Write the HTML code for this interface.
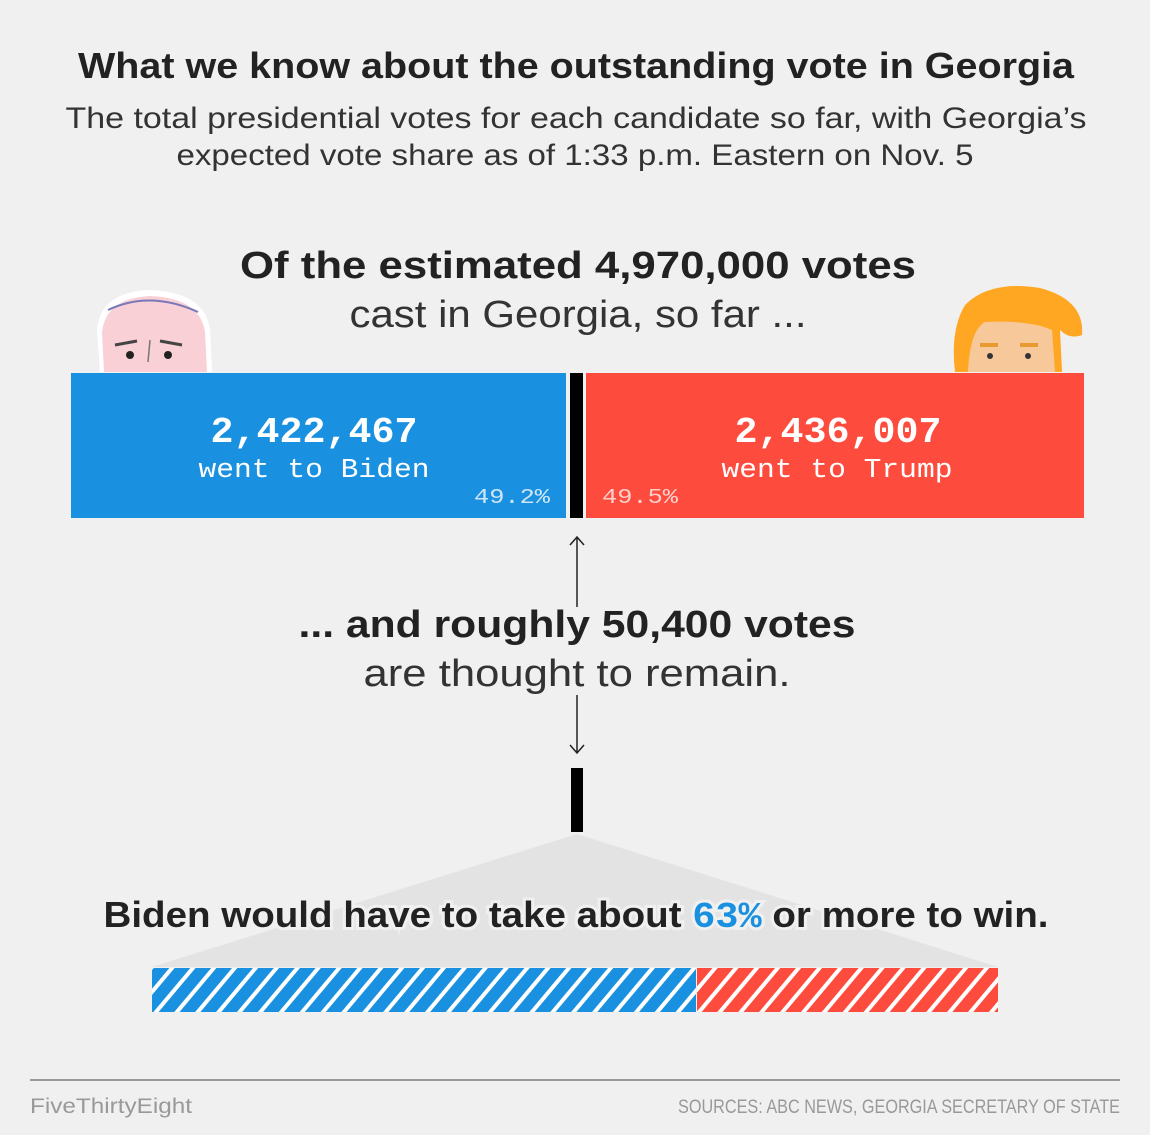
<!DOCTYPE html>
<html><head><meta charset="utf-8"><style>
html,body{margin:0;padding:0;background:#f0f0f0;}
svg{display:block;}
</style></head><body>
<svg width="1150" height="1135" viewBox="0 0 1150 1135" xmlns="http://www.w3.org/2000/svg">
<defs>
<pattern id="hb" patternUnits="userSpaceOnUse" width="16" height="16" patternTransform="rotate(40)">
<rect width="16" height="16" fill="#1a90e0"/><rect x="0" width="4" height="16" fill="#fff"/></pattern>
<pattern id="hr" patternUnits="userSpaceOnUse" width="16" height="16" patternTransform="rotate(40)">
<rect width="16" height="16" fill="#fd4c3d"/><rect x="0" width="4" height="16" fill="#fff"/></pattern>
</defs>
<rect width="1150" height="1135" fill="#f0f0f0"/>
<g font-family="Liberation Sans, sans-serif" fill="#222" text-anchor="middle">
<text x="576" y="78" font-size="36" font-weight="bold" textLength="996" lengthAdjust="spacingAndGlyphs">What we know about the outstanding vote in Georgia</text>
<text x="576" y="128" font-size="30" fill="#333" textLength="1021" lengthAdjust="spacingAndGlyphs">The total presidential votes for each candidate so far, with Georgia’s</text>
<text x="575" y="165" font-size="30" fill="#333" textLength="797" lengthAdjust="spacingAndGlyphs">expected vote share as of 1:33 p.m. Eastern on Nov. 5</text>
<text x="578" y="278" font-size="38" font-weight="bold" textLength="676" lengthAdjust="spacingAndGlyphs">Of the estimated 4,970,000 votes</text>
<text x="578" y="327" font-size="38" fill="#333" textLength="457" lengthAdjust="spacingAndGlyphs">cast in Georgia, so far ...</text>
</g>
<!-- Biden face -->
<g>
<path d="M100 372 L97 330 Q100 292 150 290 Q205 292 210 330 L212 372 Z" fill="#fff"/>
<path d="M104 372 L102 332 Q106 298 150 296 Q200 298 205 332 L207 372 Z" fill="#f9d0d6"/>
<path d="M108 310 Q150 290 198 312" stroke="#7a78b8" stroke-width="2" fill="none"/>
<path d="M115 345 l22 -4 M160 341 l22 4" stroke="#444" stroke-width="3"/>
<circle cx="130" cy="355" r="4" fill="#222"/><circle cx="168" cy="355" r="4" fill="#222"/>
<path d="M150 340 l-2 22" stroke="#777" stroke-width="1.5"/>
</g>
<!-- Trump face -->
<g>
<path d="M958 372 L962 320 Q975 300 1000 300 L1040 300 Q1060 330 1062 372 Z" fill="#f7c99a"/>
<path d="M955 372 Q950 330 965 305 Q990 280 1040 288 Q1085 300 1082 335 Q1070 340 1060 330 L1062 372 L1055 372 L1052 330 Q1030 320 985 322 Q970 330 968 372 Z" fill="#ffa722"/>
<path d="M980 345 l18 0 M1020 345 l18 0" stroke="#e89a30" stroke-width="4"/>
<circle cx="990" cy="356" r="3" fill="#333"/><circle cx="1028" cy="356" r="3" fill="#333"/>
</g>
<rect x="71" y="373" width="495" height="145" fill="#1a90e0"/>
<rect x="570" y="373" width="13" height="145" fill="#000"/>
<rect x="586" y="373" width="498" height="145" fill="#fd4c3d"/>
<g font-family="Liberation Mono, monospace" fill="#fff" text-anchor="middle">
<text x="314" y="442" font-size="36" font-weight="bold" textLength="207" lengthAdjust="spacingAndGlyphs">2,422,467</text>
<text x="314" y="477" font-size="27" textLength="231" lengthAdjust="spacingAndGlyphs">went to Biden</text>
<text x="512" y="503" font-size="21" fill="#cfe6f8" textLength="76" lengthAdjust="spacingAndGlyphs">49.2%</text>
<text x="838" y="442" font-size="36" font-weight="bold" textLength="207" lengthAdjust="spacingAndGlyphs">2,436,007</text>
<text x="837" y="477" font-size="27" textLength="231" lengthAdjust="spacingAndGlyphs">went to Trump</text>
<text x="640" y="503" font-size="21" fill="#fdd0cb" textLength="76" lengthAdjust="spacingAndGlyphs">49.5%</text>
</g>
<g stroke="#222" stroke-width="1.5" fill="none">
<path d="M577 537 L577 607 M570 545 L577 537 L584 545"/>
<path d="M577 695 L577 753 M570 745 L577 753 L584 745"/>
</g>
<g font-family="Liberation Sans, sans-serif" fill="#222" text-anchor="middle">
<text x="577" y="637" font-size="38" font-weight="bold" textLength="557" lengthAdjust="spacingAndGlyphs">... and roughly 50,400 votes</text>
<text x="577" y="686" font-size="38" fill="#333" textLength="427" lengthAdjust="spacingAndGlyphs">are thought to remain.</text>
</g>
<rect x="571" y="768" width="12" height="64" fill="#000"/>
<polygon points="577,834 152,967 998,967" fill="#e3e3e3"/>
<text x="576" y="927" font-family="Liberation Sans, sans-serif" font-size="36" font-weight="bold" fill="#222" text-anchor="middle" textLength="945" lengthAdjust="spacingAndGlyphs" stroke="#f0f0f0" stroke-width="6" paint-order="stroke">Biden would have to take about <tspan fill="#1a90e0" font-family="Liberation Mono, monospace">63%</tspan> or more to win.</text>
<rect x="152" y="968" width="544" height="44" fill="url(#hb)"/>
<rect x="697" y="968" width="301" height="44" fill="url(#hr)"/>
<rect x="30" y="1079" width="1090" height="2" fill="#999"/>
<text x="30" y="1113" font-family="Liberation Sans, sans-serif" font-size="21" fill="#999" textLength="162" lengthAdjust="spacingAndGlyphs">FiveThirtyEight</text>
<text x="1120" y="1113" font-family="Liberation Sans, sans-serif" font-size="19" fill="#999" text-anchor="end" textLength="442" lengthAdjust="spacingAndGlyphs">SOURCES: ABC NEWS, GEORGIA SECRETARY OF STATE</text>
</svg>
</body></html>
